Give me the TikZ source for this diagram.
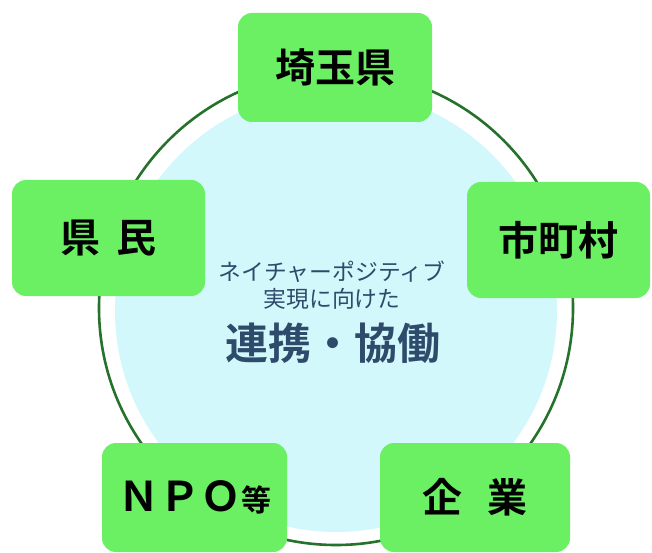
\documentclass[tikz,border=0pt]{standalone}
\usepackage{fontspec}
\newfontfamily\jp{Noto Sans CJK JP}[BoldFont={Noto Sans CJK JP Bold}]
\definecolor{boxgreen}{HTML}{6AF062}
\definecolor{ringgreen}{HTML}{25722A}
\definecolor{cyanfill}{HTML}{D2F8FC}
\definecolor{navytext}{HTML}{2E4B6B}
\begin{document}
\begin{tikzpicture}[x=1pt,y=-1pt,
  box/.style={fill=boxgreen, rounded corners=14pt, inner sep=0pt, align=center,
    font=\jp\bfseries\fontsize{40}{42}\selectfont, text=black},
  small/.style={font=\jp\fontsize{22.8}{25}\selectfont, text=navytext, inner sep=0pt},
  big/.style={font=\jp\bfseries\fontsize{43}{46}\selectfont, text=navytext, inner sep=0pt}]
\useasboundingbox (0,0) rectangle (652,553);
\fill[white] (0,0) rectangle (652,553);
\fill[cyanfill] (336,311) circle (221pt);
\draw[ringgreen, line width=2.6pt] (336,308) circle (237pt);
\node[box, minimum width=194pt, minimum height=109pt] (saitama) at (335,67.5) {埼玉県};
\node[box, minimum width=193pt, minimum height=116pt] (kenmin) at (108.5,238) {県\hspace{0.4em}民};
\node[box, minimum width=183pt, minimum height=116pt] (shichoson) at (558.5,240) {市町村};
\node[box, minimum width=185pt, minimum height=109pt] (npo) at (194.5,497.5) {{\fontsize{41}{42}\selectfont ＮＰＯ}{\fontsize{30}{30}\selectfont 等}};
\node[box, minimum width=190pt, minimum height=109pt] (kigyo) at (475,497.5) {企\hspace{0.65em}業};
\node[small] (l1) at (332,272) {ネイチャーポジティブ};
\node[small] (l2) at (332,299) {実現に向けた};
\node[big] (l3) at (333,343) {連携・協働};
\end{tikzpicture}
\end{document}
